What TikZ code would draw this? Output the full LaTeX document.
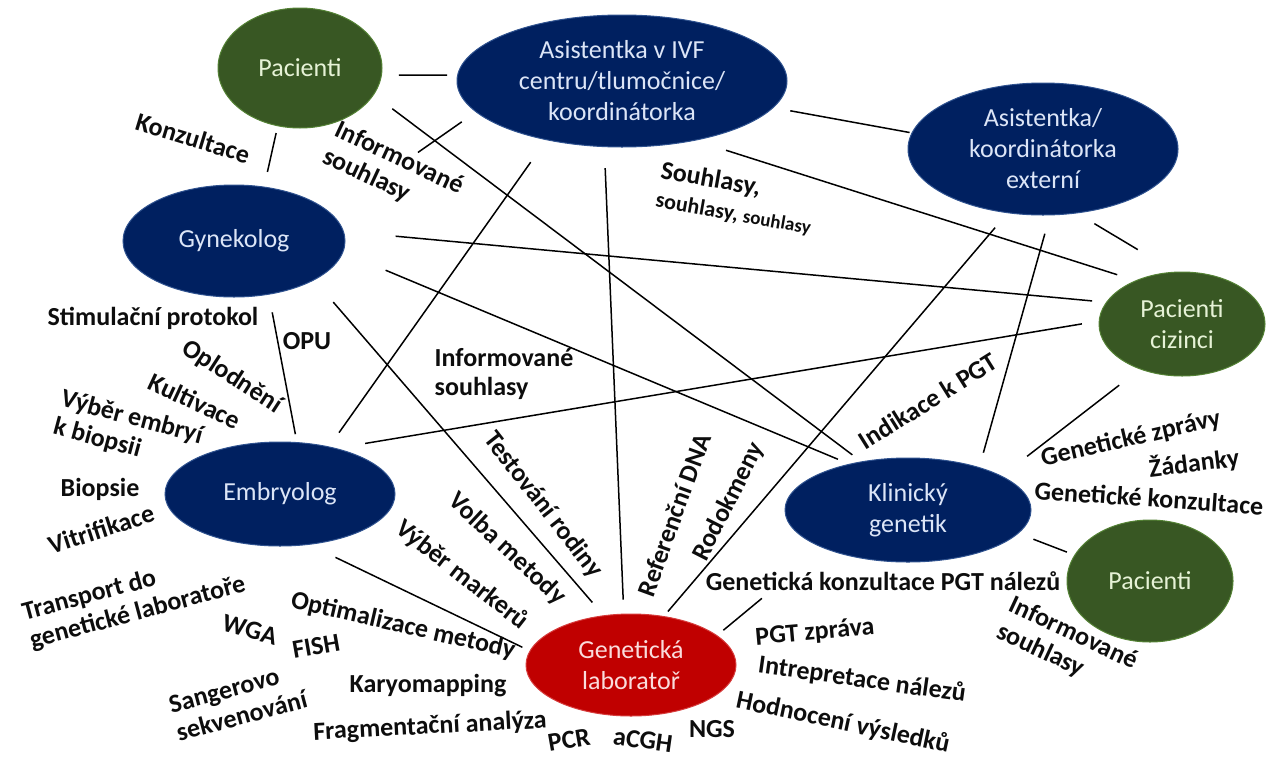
\documentclass[tikz,border=0pt]{standalone}
\usepackage{fontspec}
\setmainfont{Carlito}
\usepackage{tikz}
\usetikzlibrary{shapes.geometric}

\definecolor{navyfill}{RGB}{0,32,96}
\definecolor{navyedge}{RGB}{47,82,143}
\definecolor{greenfill}{RGB}{56,87,35}
\definecolor{greenedge}{RGB}{84,130,53}
\definecolor{redfill}{RGB}{192,0,0}
\definecolor{rededge}{RGB}{214,60,60}
\definecolor{bluetext}{RGB}{220,229,247}
\definecolor{greentext}{RGB}{230,242,214}
\definecolor{redtext}{RGB}{250,220,220}
\definecolor{labeltext}{RGB}{13,13,13}

\begin{document}
\begin{tikzpicture}[x=1pt, y=-1pt,
  role/.style={ellipse, inner sep=0pt, align=center, line width=1pt,
    font=\fontsize{26}{31}\selectfont},
  staff/.style={role, fill=navyfill, draw=navyedge, text=bluetext},
  client/.style={role, fill=greenfill, draw=greenedge, text=greentext},
  labnode/.style={role, fill=redfill, draw=rededge, text=redtext},
  lbl/.style={font=\fontsize{26}{29}\selectfont\bfseries, text=labeltext, inner sep=1pt, align=left},
  link/.style={draw=black, line width=1.5pt}]

\useasboundingbox (0,0) rectangle (1268,758);

% Nodes
\node (pacA) [client, minimum width=164pt, minimum height=120pt] at (300,68) {Pacienti};
\node (ivf) [staff, minimum width=330pt, minimum height=132pt] at (622,81) {Asistentka v IVF\\centru/tlumočnice/\\koordinátorka};
\node (ext) [staff, minimum width=270pt, minimum height=132pt] at (1043,149) {Asistentka/\\koordinátorka\\externí};
\node (gyn) [staff, minimum width=222pt, minimum height=112pt] at (234,241) {Gynekolog};
\node (ciz) [client, minimum width=166pt, minimum height=104pt] at (1182,324) {Pacienti\\cizinci};
\node (emb) [staff, minimum width=230pt, minimum height=104pt] at (280,494) {Embryolog};
\node (kg) [staff, minimum width=246pt, minimum height=104pt] at (908,510) {Klinický\\genetik};
\node (pacB) [client, minimum width=166pt, minimum height=122pt] at (1150,581) {Pacienti};
\node (lab) [labnode, minimum width=210pt, minimum height=102pt] at (631,665) {Genetická\\laboratoř};

% Connectors
\draw[link, shorten <=17pt, shorten >=10pt] (pacA.-5) -- (ivf.178);
\draw[link, shorten <=7pt, shorten >=15pt] (pacA.249) -- (gyn.61);
\draw[link, shorten <=106pt, shorten >=17pt] (gyn.16) -- (ivf.192);
\draw[link, shorten <=23pt, shorten >=11pt] (pacA.-20) -- (kg.134);
\draw[link, shorten <=52pt, shorten >=14pt] (gyn.5) -- (ciz.164);
\draw[link, shorten <=46pt, shorten >=12pt] (gyn.-6) -- (kg.142);
\draw[link, shorten <=32pt, shorten >=19pt] (ivf.-39) -- (ciz.137);
\draw[link, shorten <=17pt, shorten >=2pt] (ivf.-10) -- (ext.173);
\draw[link, shorten <=20pt, shorten >=43pt] (ext.-62) -- (ciz.98);
\draw[link, shorten <=19pt, shorten >=6pt] (ext.241) -- (lab.56);
\draw[link, shorten <=19pt, shorten >=15pt] (ext.-84) -- (kg.31);
\draw[link, shorten <=27pt, shorten >=17pt] (ivf.218) -- (emb.44);
\draw[link, shorten <=21pt, shorten >=14pt] (ivf.255) -- (lab.98);
\draw[link, shorten <=18pt, shorten >=8pt] (gyn.-57) -- (emb.72);
\draw[link, shorten <=29pt, shorten >=17pt] (gyn.-26) -- (lab.119);
\draw[link, shorten <=29pt, shorten >=17pt] (emb.39) -- (ciz.178);
\draw[link, shorten <=29pt, shorten >=8pt] (emb.-60) -- (lab.172);
\draw[link, shorten <=26pt, shorten >=32pt] (ciz.227) -- (kg.20);
\draw[link, shorten <=16pt, shorten >=8pt] (kg.-12) -- (pacB.161);
\draw[link, shorten <=79pt, shorten >=8pt] (kg.204) -- (lab.19);

% Labels
\node (konz) [lbl, rotate=-17] at (193,138) {Konzultace};
\node (infA) [lbl, rotate=-25] at (393,172) {Informované\\souhlasy};
\node (souh) [lbl, rotate=-10] at (736,199) {Souhlasy,\\{\fontsize{22}{24}\selectfont souhlasy, }{\fontsize{19}{24}\selectfont souhlasy}};
\node (stim) [lbl] at (153,318) {Stimulační protokol};
\node (opu) [lbl] at (307,341) {OPU};
\node (oplod) [lbl, rotate=-33] at (232,377) {Oplodnění};
\node (kult) [lbl, rotate=-25] at (195,401) {Kultivace};
\node (vyber) [lbl, rotate=-15] at (128,432) {Výběr embryí\\k biopsii};
\node (biop) [lbl] at (100,489) {Biopsie};
\node (vitr) [lbl, rotate=18] at (101,529) {Vitrifikace};
\node (transp) [lbl, rotate=15] at (134,599) {Transport do\\genetické laboratoře};
\node (wga) [lbl, rotate=-15] at (250,630) {WGA};
\node (fish) [lbl, rotate=10] at (316,646) {FISH};
\node (sang) [lbl, rotate=15] at (238,702) {Sangerovo\\sekvenování};
\node (optim) [lbl, rotate=-13] at (403,626) {Optimalizace metody};
\node (karyo) [lbl] at (428,686) {Karyomapping};
\node (frag) [lbl, rotate=3] at (430,727) {Fragmentační analýza};
\node (pcr) [lbl, rotate=10] at (569,740) {PCR};
\node (acgh) [lbl, rotate=-8] at (643,740) {aCGH};
\node (ngs) [lbl] at (712,729) {NGS};
\node (hodn) [lbl, rotate=-12] at (843,723) {Hodnocení výsledků};
\node (intr) [lbl, rotate=-8] at (862,680) {Intrepretace nálezů};
\node (zprava) [lbl, rotate=5] at (815,633) {PGT zpráva};
\node (konzpgt) [lbl] at (883,581) {Genetická konzultace PGT nálezů};
\node (volba) [lbl, rotate=-43] at (507,549) {Volba metody};
\node (markery) [lbl, rotate=-38] at (462,575) {Výběr markerů};
\node (testov) [lbl, rotate=-52] at (543,505) {Testování rodiny};
\node (refdna) [lbl, rotate=70] at (674,515) {Referenční DNA};
\node (rodok) [lbl, rotate=63] at (729,502) {Rodokmeny};
\node (indik) [lbl, rotate=32] at (928,401) {Indikace k PGT};
\node (infB) [lbl] at (504,374) {Informované\\souhlasy};
\node (genzpr) [lbl, rotate=13] at (1131,439) {Genetické zprávy};
\node (zadanky) [lbl, rotate=7] at (1194,463) {Žádanky};
\node (genkonz) [lbl, rotate=-4] at (1149,498) {Genetické konzultace};
\node (infC) [lbl, rotate=-25] at (1067,647) {Informované\\souhlasy};

\end{tikzpicture}
\end{document}
